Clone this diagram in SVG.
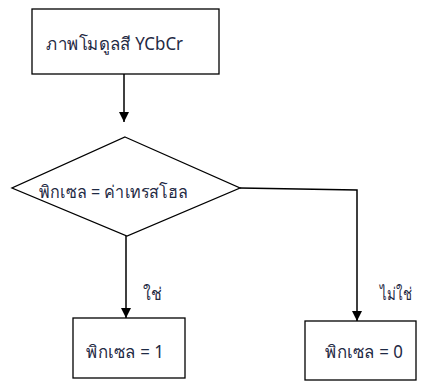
<svg xmlns="http://www.w3.org/2000/svg" width="422" height="381" viewBox="0 0 422 381">
  <defs>
    <marker id="arrow" viewBox="0 0 10 10" refX="10" refY="5" markerWidth="10" markerHeight="10" markerUnits="userSpaceOnUse" orient="auto">
      <path d="M0,0 L10,5 L0,10 Z" fill="#000"/>
    </marker>
    <style>
      .shape { fill: #fff; stroke: #000; stroke-width: 1.3; }
      .line { fill: none; stroke: #000; stroke-width: 1.5; }
      .label { font-family: "Noto Sans", "DejaVu Sans", sans-serif; font-size: 17.5px; fill: #1f2a44; }
    </style>
  </defs>

  <rect width="422" height="381" fill="#fff"/>

  <g id="connectors">
    <line class="line" x1="124" y1="74" x2="124" y2="122" marker-end="url(#arrow)"/>
    <line class="line" x1="126" y1="236" x2="126" y2="318" marker-end="url(#arrow)"/>
    <polyline class="line" points="240,188 357,190 357,321" marker-end="url(#arrow)"/>
    <text class="label" x="143" y="300" textLength="19" lengthAdjust="spacingAndGlyphs">ใช่</text>
    <text class="label" x="380" y="300" textLength="32" lengthAdjust="spacingAndGlyphs">ไม่ใช่</text>
  </g>

  <g id="start">
    <rect class="shape" x="32" y="9" width="187" height="65"/>
    <text class="label" x="46" y="50" textLength="137" lengthAdjust="spacingAndGlyphs">ภาพโมดูลสี YCbCr</text>
  </g>

  <g id="decision">
    <polygon class="shape" points="125,137 240,188 127,236 12,188"/>
    <text class="label" x="39" y="198" textLength="149" lengthAdjust="spacingAndGlyphs">พิกเซล = ค่าเทรสโฮล</text>
  </g>

  <g id="one">
    <rect class="shape" x="73" y="318" width="112" height="60"/>
    <text class="label" x="86" y="358" textLength="78" lengthAdjust="spacingAndGlyphs">พิกเซล = 1</text>
  </g>

  <g id="zero">
    <rect class="shape" x="305" y="321" width="111" height="59"/>
    <text class="label" x="325" y="358" textLength="78" lengthAdjust="spacingAndGlyphs">พิกเซล = 0</text>
  </g>
</svg>
